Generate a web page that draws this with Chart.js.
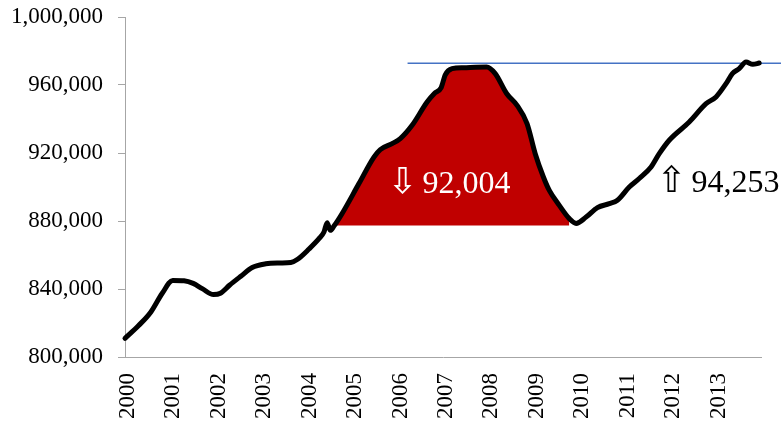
<!DOCTYPE html>
<html>
<head>
<meta charset="utf-8">
<script src="https://cdn.jsdelivr.net/npm/chart.js@4.4.1/dist/chart.umd.min.js"></script>
<style>
    html, body { margin: 0; padding: 0; background: #fff; }
    #wrap { width: 781px; height: 425px; }
</style>
</head>
<body>
<div id="wrap"><canvas id="chart"></canvas></div>
<script>
// series (decimal year, value)
const pointYears = [
    2000.00, 2000.30, 2000.57, 2000.82, 2001.05, 2001.30, 2001.50, 2001.70, 2001.95, 2002.10,
    2002.30, 2002.55, 2002.80, 2003.10, 2003.40, 2003.65, 2003.80, 2004.05, 2004.27, 2004.38,
    2004.45, 2004.52, 2004.60, 2004.78, 2005.15, 2005.48, 2005.62, 2005.88, 2006.06, 2006.32,
    2006.65, 2006.81, 2006.96, 2007.05, 2007.20, 2007.45, 2007.96, 2008.15, 2008.40, 2008.63,
    2008.85, 2009.03, 2009.21, 2009.34, 2009.56, 2009.78, 2009.93, 2010.15, 2010.40, 2010.66,
    2010.84, 2011.10, 2011.32, 2011.58, 2011.76, 2011.98, 2012.42, 2012.79, 2013.01, 2013.23,
    2013.37, 2013.52, 2013.67, 2013.82, 2013.96
];
const pointValues = [
    811000, 818500, 826500, 837500, 845000, 844800, 843300, 840200, 836700, 837500,
    842200, 847500, 852600, 854800, 855300, 855600, 857500, 863500, 869600, 873500,
    879000, 874500, 877000, 884400, 902000, 917600, 922000, 925500, 928500, 936300,
    950000, 955000, 958500, 966000, 969600, 970200, 970600, 966700, 955000, 948000,
    937300, 919600, 905900, 898000, 889200, 881400, 878600, 882300, 887900, 890200,
    892200, 900000, 905000, 911800, 919600, 927500, 938200, 949000, 953000, 960800,
    966700, 969600, 973500, 972200, 972900
];
const yearLabels = [2000, 2001, 2002, 2003, 2004, 2005, 2006, 2007, 2008, 2009, 2010, 2011, 2012, 2013];

// shaded drop between the two troughs
const dropStart = 2004.60;
const dropEnd = 2009.80;
const dropBase = 877300;

// reference level (latest value)
const levelYears = [2006.22, 2014.44];
const levelValue = 972850;

const notes = [
    { arrow: '\u21E9', text: '92,004', x: 2005.89, y: 896650, color: '#ffffff' },
    { arrow: '\u21E7', text: '94,253', x: 2011.81, y: 897240, color: '#000000' }
];

const mainData = pointYears.map((yr, i) => ({ x: yr, y: pointValues[i] }));
const dropData = mainData.filter(p => p.x >= dropStart && p.x <= dropEnd);
const levelData = levelYears.map(yr => ({ x: yr, y: levelValue }));

const axisGrey = '#a6a6a6';
const serif = '"Liberation Serif", "Times New Roman", serif';

const notesPlugin = {
    id: 'notes',
    afterDatasetsDraw(chart) {
        const { ctx, scales: { x, y } } = chart;
        notes.forEach(n => {
            const px = x.getPixelForValue(n.x);
            const py = y.getPixelForValue(n.y);
            ctx.save();
            ctx.fillStyle = n.color;
            ctx.textBaseline = 'alphabetic';
            ctx.textAlign = 'left';
            ctx.font = '36px "DejaVu Sans"';
            ctx.fillText(n.arrow, px - 5, py);
            ctx.font = '32px ' + serif;
            ctx.fillText(n.text, px + 30, py);
            ctx.restore();
        });
    }
};

new Chart(document.getElementById('chart'), {
    type: 'line',
    data: {
        datasets: [
            {
                data: mainData,
                borderColor: '#000000',
                borderWidth: 5,
                borderCapStyle: 'round',
                borderJoinStyle: 'round',
                pointRadius: 0,
                cubicInterpolationMode: 'monotone',
                fill: false,
                clip: false,
                order: 1
            },
            {
                data: dropData,
                borderWidth: 0,
                borderColor: 'rgba(0,0,0,0)',
                backgroundColor: '#c00000',
                pointRadius: 0,
                cubicInterpolationMode: 'monotone',
                fill: { value: dropBase },
                clip: false,
                order: 2
            },
            {
                data: levelData,
                borderColor: '#4472c4',
                borderWidth: 1.5,
                pointRadius: 0,
                fill: false,
                clip: false,
                order: 3
            }
        ]
    },
    options: {
        responsive: true,
        maintainAspectRatio: false,
        animation: false,
        events: [],
        layout: { padding: { top: 17, right: 20, left: 0, bottom: 0 } },
        plugins: { legend: { display: false }, tooltip: { enabled: false } },
        scales: {
            x: {
                type: 'linear',
                min: 2000,
                max: 2014,
                afterBuildTicks: scale => { scale.ticks = yearLabels.map(v => ({ value: v })); },
                afterFit: scale => {
                    scale.height = 68;
                    scale.paddingLeft = 0;
                    scale.paddingRight = 0;
                },
                grid: { display: false, drawTicks: false },
                border: { display: true, color: axisGrey, width: 1 },
                ticks: {
                    autoSkip: false,
                    minRotation: 90,
                    maxRotation: 90,
                    padding: 16,
                    labelOffset: 3,
                    color: '#000',
                    font: { family: serif, size: 23 },
                    callback: v => String(v)
                }
            },
            y: {
                min: 800000,
                max: 1000000,
                afterFit: scale => {
                    scale.width = 125;
                    scale.paddingTop = 0;
                    scale.paddingBottom = 0;
                },
                grid: { drawOnChartArea: false, drawTicks: true, tickLength: 7, color: axisGrey },
                border: { display: true, color: axisGrey, width: 1 },
                ticks: {
                    stepSize: 40000,
                    padding: 15,
                    color: '#000',
                    font: { family: serif, size: 23 },
                    callback: v => v.toLocaleString('en-US')
                }
            }
        }
    },
    plugins: [notesPlugin]
});
</script>
</body>
</html>
